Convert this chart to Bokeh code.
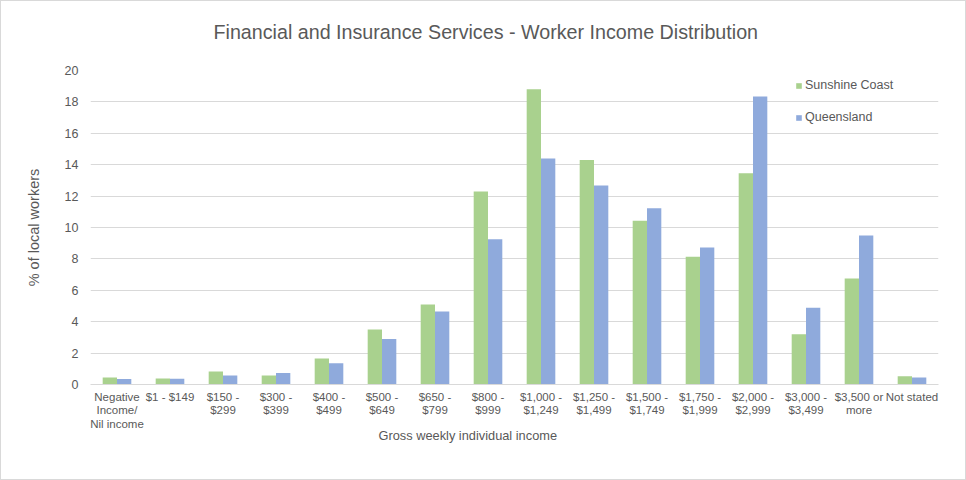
from bokeh.plotting import figure
from bokeh.models import ColumnDataSource, FactorRange, Range1d, FixedTicker, Legend, LegendItem, Title
from bokeh.transform import dodge
from bokeh.embed import file_html
from bokeh.resources import INLINE

categories = ["Negative\nIncome/\nNil income", "$1 - $149", "$150 -\n$299", "$300 -\n$399",
              "$400 -\n$499", "$500 -\n$649", "$650 -\n$799", "$800 -\n$999",
              "$1,000 -\n$1,249", "$1,250 -\n$1,499", "$1,500 -\n$1,749", "$1,750 -\n$1,999",
              "$2,000 -\n$2,999", "$3,000 -\n$3,499", "$3,500 or\nmore", "Not stated"]
sunshine_coast = [0.45, 0.38, 0.83, 0.57, 1.66, 3.50, 5.10, 12.30, 18.80, 14.30, 10.43, 8.13, 13.45, 3.20, 6.75, 0.53]
queensland = [0.35, 0.36, 0.57, 0.74, 1.36, 2.90, 4.65, 9.25, 14.40, 12.67, 11.23, 8.73, 18.34, 4.89, 9.49, 0.45]
y_ticks = [0, 2, 4, 6, 8, 10, 12, 14, 16, 18, 20]

GREEN = "#a9d18e"
BLUE = "#8faadc"
TXT = "#595959"
FONT = "Liberation Sans"

src = ColumnDataSource(dict(cat=categories, sc=sunshine_coast, q=queensland))

p = figure(width=966, height=480, x_range=FactorRange(*categories), y_range=Range1d(0, 20),
           output_backend="svg", toolbar_location=None,
           min_border_left=89, min_border_right=29, min_border_top=69, min_border_bottom=97)
p.outline_line_color = None
p.styles = {"border": "1px solid #d9d9d9", "box-sizing": "border-box"}

r1 = p.vbar(x=dodge("cat", -0.135, range=p.x_range), top="sc", width=0.27, source=src,
            fill_color=GREEN, line_color=None)
r2 = p.vbar(x=dodge("cat", 0.135, range=p.x_range), top="q", width=0.27, source=src,
            fill_color=BLUE, line_color=None)

# spacer between the chart title and the plot area (closest to the frame)
spacer = Title(text=" ", text_font_size="1px", standoff=25)
p.add_layout(spacer, "above")
main_title = Title(text="Financial and Insurance Services - Worker Income Distribution",
                   align="left", offset=123, vertical_align="bottom", standoff=0,
                   text_font=FONT, text_font_size="19.7px", text_font_style="normal",
                   text_color=TXT)
p.add_layout(main_title, "above")

p.xgrid.grid_line_color = None
p.ygrid.grid_line_color = "#d9d9d9"
p.ygrid.grid_line_width = 1

p.yaxis.ticker = FixedTicker(ticks=y_ticks)
p.yaxis.axis_line_color = None
p.yaxis.major_tick_line_color = None
p.yaxis.minor_tick_line_color = None
p.yaxis.major_label_text_font = FONT
p.yaxis.major_label_text_font_size = "12.5px"
p.yaxis.major_label_text_color = TXT
p.yaxis.major_label_standoff = 6
p.yaxis.axis_label = "% of local workers"
p.yaxis.axis_label_text_font = FONT
p.yaxis.axis_label_text_font_size = "14.5px"
p.yaxis.axis_label_text_font_style = "normal"
p.yaxis.axis_label_text_color = TXT
p.yaxis.axis_label_standoff = 20

p.xaxis.axis_line_color = "#d9d9d9"
p.xaxis.major_tick_line_color = None
p.xaxis.minor_tick_line_color = None
p.xaxis.major_label_text_font = FONT
p.xaxis.major_label_text_font_size = "11.5px"
p.xaxis.major_label_text_color = TXT
p.xaxis.major_label_text_line_height = 1.14
p.xaxis.major_label_standoff = 0
p.xaxis.major_label_orientation = "horizontal"

xt = Title(text="Gross weekly individual income", align="left", offset=288,
           text_font=FONT, text_font_size="12.8px", text_font_style="normal", text_color=TXT,
           standoff=-13)
p.add_layout(xt, "below")

legend = Legend(items=[LegendItem(label="Sunshine Coast", renderers=[r1]),
                       LegendItem(label="Queensland", renderers=[r2])],
                location=(705, 257), orientation="vertical",
                label_text_font=FONT, label_text_font_size="12.5px", label_text_color=TXT,
                glyph_width=7, glyph_height=7, label_height=20, spacing=12,
                padding=0, margin=0, label_standoff=3,
                background_fill_alpha=0, border_line_color=None)
p.add_layout(legend)

open("out.html", "w").write(file_html(p, INLINE))
